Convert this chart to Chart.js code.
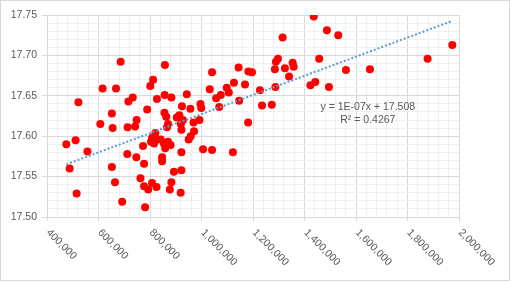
<!DOCTYPE html>
<html>
<head>
<meta charset="utf-8">
<script src="https://cdn.jsdelivr.net/npm/chart.js@4.4.0/dist/chart.umd.min.js"></script>
<style>
    html, body { margin: 0; padding: 0; background: #ffffff; }
    #wrap { position: relative; width: 512px; height: 282px; }
    #frame { position: absolute; left: 0; top: 0; width: 508px; height: 279px; border: 1px solid #D9D9D9; pointer-events: none; }
</style>
</head>
<body>
<div id="wrap">
    <canvas id="chart" width="512" height="282"></canvas>
    <div id="frame"></div>
</div>
<script>
// Scatter values
var xValues = [
    475000, 488000, 511000, 515000, 522000, 557000, 607000, 616000, 652000, 652000,
    655000, 664000, 668000, 686000, 692000, 712000, 713000, 716000, 733000, 742000,
    748000, 747000, 763000, 773000, 777000, 777000, 781000, 789000, 793000, 801000,
    812000, 808000, 808000, 804000, 821000, 827000, 828000, 816000, 825000, 842000,
    847000, 847000, 856000, 858000, 857000, 863000, 870000, 866000, 854000, 859000,
    870000, 880000, 883000, 883000, 877000, 893000, 904000, 914000, 928000, 920000,
    922000, 922000, 919000, 922000, 924000, 943000, 950000, 958000, 957000, 969000,
    971000, 996000, 999000, 992000, 1006000, 1032000, 1041000, 1041000, 1057000, 1075000,
    1069000, 1098000, 1106000, 1122000, 1126000, 1144000, 1146000, 1169000, 1182000, 1196000,
    1181000, 1227000, 1235000, 1273000, 1287000, 1285000, 1289000, 1297000, 1315000, 1324000,
    1340000, 1354000, 1358000, 1423000, 1442000, 1436000, 1457000, 1487000, 1495000, 1531000,
    1561000, 1654000, 1878000, 1974000
];
var yValues = [
    17.590, 17.560, 17.595, 17.529, 17.642, 17.581, 17.615, 17.659, 17.562, 17.628,
    17.610, 17.543, 17.659, 17.692, 17.519, 17.578, 17.611, 17.643, 17.648, 17.612,
    17.620, 17.574, 17.548, 17.588, 17.566, 17.538, 17.512, 17.633, 17.534, 17.662,
    17.670, 17.542, 17.598, 17.593, 17.604, 17.646, 17.596, 17.591, 17.537, 17.596,
    17.574, 17.569, 17.629, 17.688, 17.651, 17.624, 17.615, 17.611, 17.591, 17.585,
    17.593, 17.589, 17.648, 17.543, 17.534, 17.556, 17.623, 17.626, 17.620, 17.615,
    17.608, 17.558, 17.530, 17.580, 17.637, 17.652, 17.596, 17.600, 17.634, 17.617,
    17.606, 17.640, 17.635, 17.620, 17.584, 17.658, 17.679, 17.583, 17.647, 17.651,
    17.636, 17.660, 17.654, 17.580, 17.666, 17.685, 17.644, 17.664, 17.680, 17.679,
    17.617, 17.657, 17.638, 17.639, 17.661, 17.683, 17.692, 17.696, 17.722, 17.684,
    17.674, 17.691, 17.686, 17.663, 17.667, 17.748, 17.696, 17.731, 17.661, 17.725,
    17.682, 17.683, 17.696, 17.713
];

// Axis ticks
var xTickLabels = [400000, 600000, 800000, 1000000, 1200000, 1400000, 1600000, 1800000, 2000000];
var yTickLabels = [17.50, 17.55, 17.60, 17.65, 17.70, 17.75];
var xMinorStep = 40000;
var yMinorStep = 0.01;

// Trendline label text, as shown on the chart
var trendLabelLines = ['y = 1E-07x + 17.508', 'R\u00b2 = 0.4267'];

var FONT = '10.5px "Liberation Sans", Arial, sans-serif';
var TEXT_COLOR = '#595959';
var MAJOR_GRID = '#D9D9D9';
var MINOR_GRID = '#F0F0F0';

/**
 * Least squares fit of the scatter, like the spreadsheet trendline.
 * @returns {Object} slope and intercept
 */
function linearFit() {
    var n = xValues.length, sx = 0, sy = 0, sxx = 0, sxy = 0;
    for (var i = 0; i < n; i++) {
        sx += xValues[i];
        sy += yValues[i];
        sxx += xValues[i] * xValues[i];
        sxy += xValues[i] * yValues[i];
    }
    var slope = (n * sxy - sx * sy) / (n * sxx - sx * sx);
    return {slope: slope, intercept: (sy - slope * sx) / n};
}

function isMajorX(v) {
    return xTickLabels.indexOf(Math.round(v)) !== -1;
}

function isMajorY(v) {
    return yTickLabels.some(function(t) {
        return Math.abs(t - v) < 1e-6;
    });
}

var fit = linearFit();
var xLo = Math.min.apply(null, xValues);
var xHi = Math.max.apply(null, xValues);

var points = xValues.map(function(x, i) {
    return {x: x, y: yValues[i]};
});
var trendPoints = [
    {x: xLo, y: fit.intercept + fit.slope * xLo},
    {x: xHi, y: fit.intercept + fit.slope * xHi}
];

// Rotated x labels (text runs down to the right, starting at the tick)
var xLabelPlugin = {
    id: 'xLabels',
    afterDraw: function(chart) {
        var ctx = chart.ctx;
        var scale = chart.scales.x;
        ctx.save();
        ctx.font = FONT;
        ctx.fillStyle = TEXT_COLOR;
        ctx.textAlign = 'left';
        ctx.textBaseline = 'middle';
        xTickLabels.forEach(function(v) {
            var px = scale.getPixelForValue(v);
            ctx.save();
            ctx.translate(px + 1, chart.chartArea.bottom + 14);
            ctx.rotate(Math.PI / 4);
            ctx.fillText(v.toLocaleString('en-US'), 0, 0);
            ctx.restore();
        });
        ctx.restore();
    }
};

// Trendline equation and R squared
var trendLabelPlugin = {
    id: 'trendLabel',
    afterDatasetsDraw: function(chart) {
        var ctx = chart.ctx;
        var cx = chart.scales.x.getPixelForValue(1646000);
        var cy = chart.scales.y.getPixelForValue(17.636);
        ctx.save();
        ctx.font = FONT;
        ctx.fillStyle = TEXT_COLOR;
        ctx.textAlign = 'center';
        ctx.textBaseline = 'middle';
        trendLabelLines.forEach(function(line, i) {
            ctx.fillText(line, cx, cy + i * 13);
        });
        ctx.restore();
    }
};

var ctx = document.getElementById('chart').getContext('2d');
new Chart(ctx, {
    type: 'scatter',
    data: {
        datasets: [{
            label: 'Trend',
            data: trendPoints,
            showLine: true,
            borderColor: '#5B9BD5',
            borderWidth: 2,
            borderDash: [2, 2],
            pointRadius: 0,
            fill: false
        }, {
            label: 'Values',
            data: points,
            backgroundColor: '#FF0000',
            borderColor: '#FF0000',
            borderWidth: 0,
            pointRadius: 4,
            pointHoverRadius: 4
        }]
    },
    options: {
        responsive: false,
        animation: false,
        events: [],
        layout: {
            autoPadding: false,
            padding: {left: 0, top: 15, right: 53, bottom: 0}
        },
        plugins: {
            legend: {display: false},
            tooltip: {enabled: false}
        },
        scales: {
            x: {
                type: 'linear',
                min: xTickLabels[0],
                max: xTickLabels[xTickLabels.length - 1],
                ticks: {display: false, stepSize: xMinorStep, maxTicksLimit: 100},
                grid: {
                    tickLength: 4,
                    color: function(c) {
                        return isMajorX(c.tick.value) ? MAJOR_GRID : MINOR_GRID;
                    },
                    tickColor: function(c) {
                        return isMajorX(c.tick.value) ? MAJOR_GRID : 'rgba(0,0,0,0)';
                    }
                },
                border: {color: MAJOR_GRID},
                afterFit: function(scale) {
                    scale.height = 65;
                }
            },
            y: {
                type: 'linear',
                min: yTickLabels[0],
                max: yTickLabels[yTickLabels.length - 1],
                ticks: {
                    stepSize: yMinorStep,
                    maxTicksLimit: 100,
                    autoSkip: false,
                    padding: 5,
                    color: TEXT_COLOR,
                    font: {family: '"Liberation Sans", Arial, sans-serif', size: 10.5},
                    callback: function(v) {
                        return isMajorY(v) ? v.toFixed(2) : '';
                    }
                },
                grid: {
                    tickLength: 5,
                    color: function(c) {
                        return isMajorY(c.tick.value) ? MAJOR_GRID : MINOR_GRID;
                    },
                    tickColor: function(c) {
                        return isMajorY(c.tick.value) ? MAJOR_GRID : 'rgba(0,0,0,0)';
                    }
                },
                border: {color: MAJOR_GRID},
                afterFit: function(scale) {
                    scale.width = 47;
                }
            }
        }
    },
    plugins: [xLabelPlugin, trendLabelPlugin]
});
</script>
</body>
</html>
